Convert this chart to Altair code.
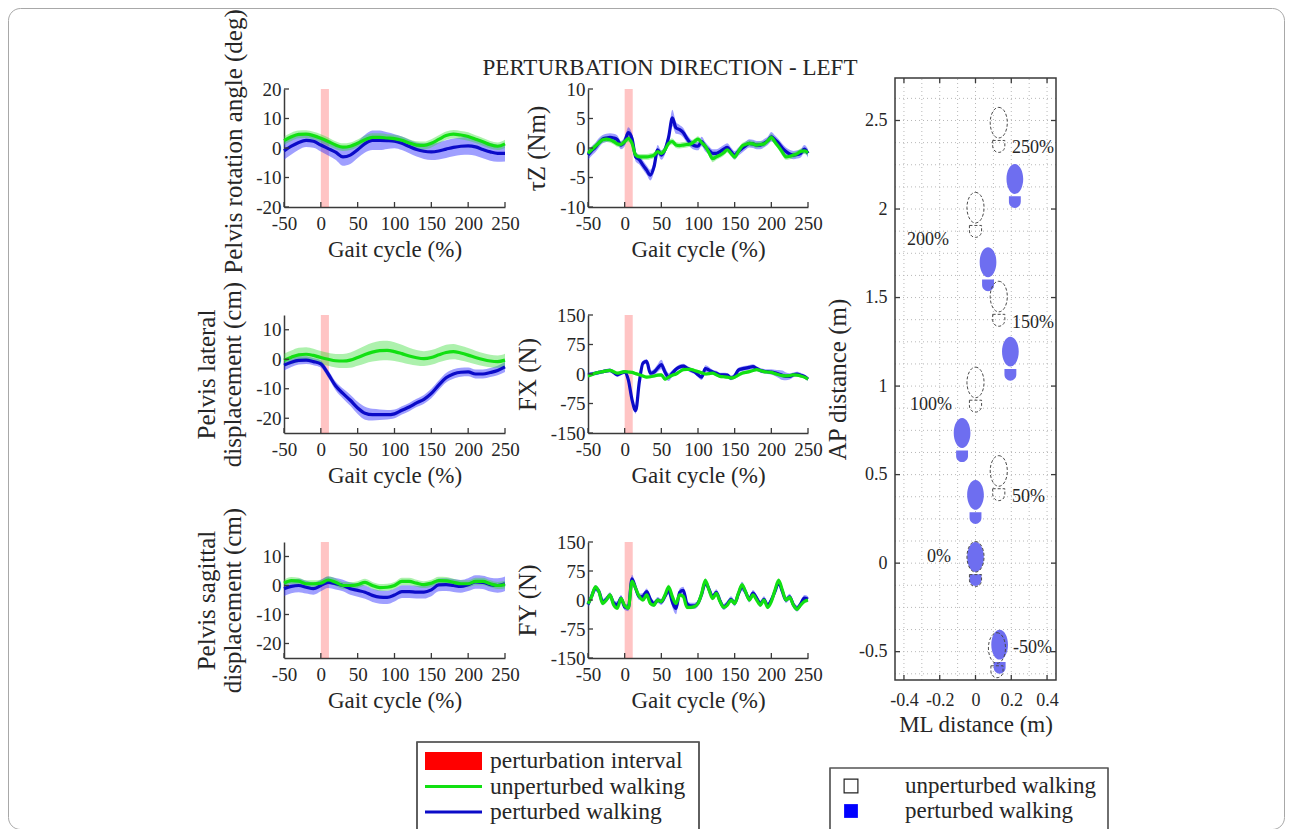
import altair as alt
import pandas as pd

# ---------------------------------------------------------------- data
GAIT10 = [-50, -40, -30, -20, -10, 0, 10, 20, 30, 40, 50, 60, 70, 80, 90, 100,
          110, 120, 130, 140, 150, 160, 170, 180, 190, 200, 210, 220, 230, 240, 250]
GAIT5 = [-50, -45, -40, -35, -30, -25, -20, -15, -10, -5,
         0, 5, 10, 15, 20, 25, 30, 35, 40, 45,
         50, 55, 60, 65, 70, 75, 80, 85, 90, 95,
         100, 105, 110, 115, 120, 125, 130, 135, 140, 145,
         150, 155, 160, 165, 170, 175, 180, 185, 190, 195,
         200, 205, 210, 215, 220, 225, 230, 235, 240, 245, 250]
GAIT_TICKS = [-50, 0, 50, 100, 150, 200, 250]
INTERVAL = [0, 11]

# pelvis rotation angle (deg)
rot_unpert = [2.5, 3.8, 4.6, 4.7, 4.2, 3.3, 2.2, 1.0, 0.3, 0.6, 1.6, 2.8, 3.6, 3.6, 3.4, 3.2,
              2.6, 1.7, 1.0, 0.9, 1.6, 2.9, 4.2, 4.7, 4.4, 3.9, 3.0, 2.1, 1.1, 0.6, 1.4]
rot_unpert_sd = [1.4, 1.4, 1.3, 1.3, 1.3, 1.4, 1.4, 1.3, 1.3, 1.3, 1.3, 1.4, 1.4, 1.4, 1.3, 1.3,
                 1.3, 1.3, 1.3, 1.3, 1.4, 1.4, 1.4, 1.4, 1.4, 1.4, 1.3, 1.3, 1.3, 1.3, 1.4]
rot_pert = [-1.0, 0.6, 1.9, 2.6, 2.3, 1.0, -0.2, -1.4, -3.0, -2.4, -0.6, 1.5, 2.6, 2.6, 2.5, 2.3,
            1.6, 0.5, -0.5, -1.1, -1.3, -1.0, -0.4, 0.2, 0.6, 0.7, 0.4, -0.5, -1.3, -1.8, -1.8]
rot_pert_sd = [3.0, 2.8, 2.5, 2.3, 2.2, 2.2, 2.3, 2.6, 3.0, 3.0, 2.8, 3.0, 3.3, 3.3, 2.8, 2.4,
               2.3, 2.3, 2.4, 2.6, 2.8, 2.9, 3.0, 3.0, 3.0, 3.0, 3.0, 3.0, 3.0, 2.9, 2.8]

# pelvis lateral displacement (cm)
lat_unpert = [-0.3, 0.7, 1.5, 1.7, 1.3, 0.6, 0.0, -0.5, -0.6, -0.3, 0.6, 1.6, 2.4, 2.9, 3.0, 2.6,
              1.9, 1.1, 0.5, 0.2, 0.6, 1.5, 2.3, 2.6, 2.1, 1.4, 0.6, -0.1, -0.6, -0.8, -0.3]
lat_unpert_sd = [2.2, 2.3, 2.4, 2.4, 2.3, 2.2, 2.2, 2.3, 2.4, 2.6, 2.8, 3.0, 3.2, 3.3, 3.3, 3.2,
                 3.0, 2.8, 2.6, 2.5, 2.5, 2.5, 2.6, 2.6, 2.5, 2.4, 2.3, 2.2, 2.1, 2.1, 2.2]
lat_pert = [-2.0, -1.0, -0.4, -0.3, -0.8, -1.6, -5.0, -9.0, -11.6, -13.9, -16.5, -18.3, -18.8,
            -18.8, -18.8, -18.5, -17.3, -16.2, -14.8, -13.6, -11.6, -8.8, -6.3, -5.0, -4.4,
            -4.3, -5.0, -5.0, -4.5, -3.8, -2.6]
lat_pert_sd = [1.8, 1.6, 1.4, 1.3, 1.2, 1.2, 1.3, 1.5, 1.7, 1.9, 2.1, 2.2, 2.0, 1.8, 1.6, 1.5,
               1.4, 1.4, 1.4, 1.5, 1.6, 1.6, 1.6, 1.6, 1.5, 1.5, 1.5, 1.5, 1.5, 1.6, 1.7]

# pelvis sagittal displacement (cm)
sag_unpert = [0.8, 1.7, 1.5, 0.6, 0.6, 0.8, 1.9, 1.1, 0.0, 0.0, 0.3, 1.1, 0.0, -0.7, -0.6, 0.0,
              1.4, 1.4, 0.8, 0.3, 0.8, 1.7, 1.6, 1.1, 0.6, 0.6, 1.4, 1.4, 0.6, 0.0, 0.3]
sag_unpert_sd = [1.2, 1.2, 1.2, 1.2, 1.2, 1.2, 1.3, 1.3, 1.2, 1.2, 1.2, 1.2, 1.2, 1.2, 1.2, 1.2,
                 1.3, 1.3, 1.2, 1.2, 1.2, 1.3, 1.3, 1.2, 1.2, 1.2, 1.3, 1.3, 1.2, 1.2, 1.3]
sag_pert = [-1.1, -0.3, 0.0, -0.6, -1.1, 0.0, 1.1, 0.6, 0.0, -1.1, -1.7, -2.3, -3.4, -4.0, -4.1,
            -3.3, -2.1, -2.1, -2.3, -2.3, -1.5, 0.2, 0.3, 0.0, -0.3, 0.3, 1.2, 1.1, 0.3, 0.0, 0.6]
sag_pert_sd = [2.5, 2.4, 2.3, 2.2, 2.1, 2.0, 2.0, 2.0, 2.0, 2.1, 2.2, 2.3, 2.3, 2.3, 2.3, 2.2,
               2.2, 2.2, 2.2, 2.2, 2.2, 2.2, 2.2, 2.2, 2.2, 2.2, 2.3, 2.3, 2.4, 2.5, 2.5]

# tau_Z (Nm)
tau_unpert = [-0.9, -0.3, 0.3, 0.9, 1.4, 1.5, 1.4, 1.1, 0.7, 0.6,
              1.1, 1.6, 0.8, -1.2, -1.5, -1.5, -1.5, -1.4, -1.2, -0.6,
              -0.9, -0.3, 0.8, 1.1, 0.5, 0.4, 0.5, 0.6, 0.7, 1.1,
              1.5, 0.9, 0.3, -0.8, -1.8, -1.5, -1.2, -0.8, -0.3, -0.9,
              -1.5, -0.6, 0.3, 0.6, 0.8, 0.7, 0.5, 0.6, 0.7, 1.2,
              1.8, 1.0, 0.2, -0.7, -1.5, -1.4, -1.2, -1.0, -0.6, -0.5, -0.8]
tau_unpert_sd = [0.5, 0.5, 0.5, 0.5, 0.5, 0.5, 0.5, 0.5, 0.5, 0.5,
                 0.5, 0.6, 0.5, 0.5, 0.5, 0.5, 0.5, 0.5, 0.5, 0.5,
                 0.5, 0.5, 0.5, 0.5, 0.5, 0.5, 0.5, 0.5, 0.5, 0.5,
                 0.5, 0.5, 0.5, 0.6, 0.6, 0.5, 0.5, 0.5, 0.5, 0.5,
                 0.5, 0.5, 0.5, 0.5, 0.5, 0.5, 0.5, 0.5, 0.5, 0.5,
                 0.6, 0.5, 0.5, 0.6, 0.5, 0.5, 0.5, 0.5, 0.5, 0.5, 0.5]
tau_pert = [-1.2, -0.5, 0.1, 0.9, 1.5, 1.7, 1.8, 1.7, 1.4, 0.5,
            1.1, 2.6, 1.6, -1.5, -2.0, -2.9, -3.75, -4.6, -3.2, -0.3,
            -1.2, -0.3, 1.9, 5.1, 3.4, 3.1, 2.6, 1.6, 0.8, 0.4,
            0.3, 1.1, 0.2, -0.4, -0.9, -0.9, -0.6, -0.2, 0.1, -0.6,
            -1.2, -0.6, -0.1, 0.4, 0.8, 0.7, 0.5, 0.5, 0.8, 1.2,
            1.9, 1.4, 0.8, 0.0, -0.6, -1.0, -1.2, -1.1, -0.9, -0.2, -0.9]
tau_pert_sd = [0.8, 0.8, 0.8, 0.8, 0.7, 0.7, 0.7, 0.7, 0.7, 0.7,
               0.8, 0.9, 0.8, 0.8, 0.8, 0.8, 0.8, 0.9, 0.9, 0.8,
               0.8, 0.8, 0.9, 1.4, 1.0, 0.8, 0.8, 0.7, 0.7, 0.7,
               0.7, 0.8, 0.8, 0.7, 0.7, 0.7, 0.7, 0.7, 0.7, 0.7,
               0.7, 0.7, 0.7, 0.7, 0.7, 0.7, 0.7, 0.7, 0.7, 0.7,
               0.8, 0.7, 0.7, 0.7, 0.7, 0.7, 0.7, 0.7, 0.7, 0.7, 0.7]

# F_X (N)
fx_unpert = [-5, -2, 2, 4, 6, 8, 9, 6, 2, 4,
             6, 5, 4, 1, -2, -5, -8, -7, -5, -3,
             -2, -13, -8, -3, 0, 6, 11, 12, 12, 9,
             6, 3, 0, 1, 2, -2, -6, -7, -8, -10,
             -8, -3, 2, 4, 6, 9, 11, 9, 6, 5,
             4, 1, -2, -4, -5, -4, -2, -3, -5, -8, -13]
fx_unpert_sd = [4, 4, 4, 4, 4, 4, 4, 4, 4, 4,
                4, 4, 4, 4, 4, 4, 4, 4, 4, 4,
                4, 5, 4, 4, 4, 4, 4, 4, 4, 4,
                4, 4, 4, 4, 4, 4, 4, 4, 4, 5,
                4, 4, 4, 4, 4, 4, 4, 4, 4, 4,
                4, 4, 4, 5, 5, 4, 4, 4, 4, 4, 4]
fx_pert = [-2, 0, 2, 4, 6, 8, 9, 4, -2, 2,
           5, -15, -65, -93, -20, 28, 32, 2, 5, 15,
           24, 5, -8, 2, 12, 18, 20, 15, 10, 6,
           -2, -8, 14, 10, 5, 2, -2, -2, -3, -10,
           -5, 10, 13, 15, 17, 19, 14, 9, 7, 6,
           5, 3, 0, -3, -6, -6, -2, 0, -3, -6, -13]
fx_pert_sd = [5, 5, 5, 5, 5, 5, 5, 5, 5, 5,
              5, 6, 7, 8, 7, 6, 6, 7, 8, 10,
              12, 12, 10, 8, 6, 6, 6, 6, 6, 6,
              6, 7, 8, 8, 6, 6, 5, 5, 5, 6,
              6, 6, 6, 6, 6, 6, 6, 6, 6, 6,
              7, 8, 10, 12, 10, 8, 6, 6, 6, 5, 5]

# F_Y (N)
fy_unpert = [-10, 9, 34, 21, -9, 0, 13, -13, -21, 4,
             -15, -21, 48, 30, 9, 0, 13, -9, -13, 0,
             -4, 13, 34, 9, -9, 13, 9, -19, -19, -17,
             -9, 17, 51, 26, 4, 17, -4, -19, -13, 0,
             -9, 17, 39, 21, 0, 13, 0, -13, 0, -19,
             -4, 26, 51, 26, 0, 7, -13, -24, -13, -4, 0]
fy_unpert_sd = [5, 5, 5, 5, 5, 5, 5, 5, 5, 5,
                5, 5, 6, 6, 5, 5, 5, 5, 5, 5,
                5, 5, 6, 5, 5, 5, 5, 5, 5, 5,
                5, 5, 6, 5, 5, 5, 5, 5, 5, 5,
                5, 5, 6, 5, 5, 5, 5, 5, 5, 5,
                5, 5, 6, 5, 5, 5, 5, 5, 5, 5, 5]
fy_pert = [-12, 10, 30, 22, -5, 2, 12, -8, -12, 5,
           -18, -20, 55, 30, 8, 10, 22, 2, -10, 0,
           -5, 10, 25, -5, -22, 20, 25, -10, -15, -15,
           -8, 15, 45, 28, 8, 20, -2, -18, -10, 2,
           -8, 15, 35, 20, 2, 18, 5, -10, 2, -15,
           0, 22, 45, 22, 0, 8, -12, -22, -10, 5, 2]
fy_pert_sd = [8, 8, 8, 8, 8, 8, 8, 8, 8, 8,
              8, 9, 10, 9, 8, 8, 8, 8, 8, 8,
              8, 9, 10, 14, 15, 10, 9, 8, 8, 8,
              8, 8, 10, 9, 8, 8, 8, 8, 8, 8,
              8, 9, 12, 10, 8, 8, 8, 8, 8, 8,
              8, 8, 9, 8, 8, 8, 8, 8, 8, 8, 8]

# footprints (m)
pert_ml = [0.135, 0.0, 0.0, -0.075, 0.195, 0.07, 0.22]
pert_ap = [-0.50, -0.005, 0.346, 0.695, 1.155, 1.66, 2.13]
unpert_ml = [0.12, 0.0, 0.13, 0.0, 0.13, 0.0, 0.13]
unpert_ap = [-0.52, -0.005, 0.48, 0.98, 1.465, 1.967, 2.447]
step_labels = ["-50%", "0%", "50%", "100%", "150%", "200%", "250%"]
step_label_ml = [0.21, -0.271, 0.204, -0.366, 0.204, -0.383, 0.204]
step_label_ap = [-0.48, 0.036, 0.375, 0.894, 1.356, 1.825, 2.345]
ML_DOMAIN = [-0.45, 0.45]
AP_DOMAIN = [-0.66, 2.74]
ML_TICKS = [-0.4, -0.2, 0, 0.2, 0.4]
AP_TICKS = [-0.5, 0, 0.5, 1, 1.5, 2, 2.5]
ML_GRID = [-0.4, -0.3, -0.2, -0.1, 0.0, 0.1, 0.2, 0.3, 0.4]
AP_GRID = [-0.625, -0.5, -0.375, -0.25, -0.125, 0.0, 0.125, 0.25, 0.375, 0.5, 0.625, 0.75,
           0.875, 1.0, 1.125, 1.25, 1.375, 1.5, 1.625, 1.75, 1.875, 2.0, 2.125, 2.25,
           2.375, 2.5, 2.625]

TITLE = "PERTURBATION DIRECTION - LEFT"
LEG_LEFT = ["perturbation interval", "unperturbed walking", "perturbed walking"]
LEG_RIGHT = ["unperturbed walking", "perturbed walking"]

# ---------------------------------------------------------------- style
W, H = 1276, 821
PAD = 8
FONT = "Liberation Serif"
AX = "#3a3a3a"
TXT = "#262626"
GREEN = "#12e012"
GREEN_BAND = "#33dd33"
BLUE = "#0b0bc8"
BLUE_BAND = "#2a2aff"
RED = "#ff0000"
FOOT_BLUE = "#6e6ef0"

FOOT = ("M0,-1 C0.21,-1 0.38,-0.696 0.38,-0.32 C0.38,0.056 0.21,0.36 0,0.36 "
        "C-0.21,0.36 -0.38,0.056 -0.38,-0.32 C-0.38,-0.696 -0.21,-1 0,-1 Z "
        "M-0.27,0.47 L0.27,0.47 L0.27,0.72 C0.27,0.875 0.15,1 0,1 "
        "C-0.15,1 -0.27,0.875 -0.27,0.72 Z")
TICK_UP = "M0,0L0,-1"
TICK_DOWN = "M0,0L0,1"
TICK_RIGHT = "M0,0L1,0"
TICK_LEFT = "M0,0L-1,0"


def px(x):
    return x - PAD


def py(y):
    return y - PAD


def axis(orient, offset, values, title, lab_pad, tit_pad, lab_size=19, tit_size=23,
         domain=True, **extra):
    return alt.Axis(orient=orient, offset=offset, values=values, title=title,
                    ticks=False, tickSize=0, grid=False, domain=domain,
                    domainColor=AX, domainWidth=1.5,
                    labelFont=FONT, labelFontSize=lab_size, labelColor=TXT,
                    labelPadding=lab_pad, labelExpr="'' + datum.value",
                    labelOverlap=False, labelFlush=False,
                    titleFont=FONT, titleFontSize=tit_size, titleFontWeight="normal",
                    titleColor=TXT, titlePadding=tit_pad, titleLineHeight=26, **extra)


def tick_layer(df, xf, yf, xs, ys, xax, yax, shape, n=100):
    return alt.Chart(df).mark_point(shape=shape, size=n, filled=False, color=AX,
                                    strokeWidth=1.3, opacity=1).encode(
        x=alt.X(xf, scale=xs, axis=xax), y=alt.Y(yf, scale=ys, axis=yax))


def gait_panel(g, pert, pert_sd, unpert, unpert_sd, box, ydom, yticks, ytitle, title_pos=None):
    x0, x1, y0, y1 = box
    df = pd.DataFrame({"g": g, "p": pert, "u": unpert})
    df["plo"] = df["p"] - pd.Series(pert_sd)
    df["phi"] = df["p"] + pd.Series(pert_sd)
    df["ulo"] = df["u"] - pd.Series(unpert_sd)
    df["uhi"] = df["u"] + pd.Series(unpert_sd)
    xs = alt.Scale(domain=[-50, 250], range=[px(x0), px(x1)], nice=False, zero=False)
    ys = alt.Scale(domain=ydom, range=[py(y1), py(y0)], nice=False, zero=False)
    xax = axis("bottom", py(y1) - H, GAIT_TICKS, "Gait cycle (%)", 7, 5)
    extra = {}
    if title_pos is not None:
        extra = {"titleX": title_pos[0], "titleY": py(title_pos[1])}
    yax = axis("left", -px(x0), yticks, ytitle, 3, 10, tit_size=25, **extra)

    def X(f):
        return alt.X(f, scale=xs, axis=xax)

    def Y(f):
        return alt.Y(f, scale=ys, axis=yax)

    inter = pd.DataFrame({"s": [INTERVAL[0]], "e": [INTERVAL[1]],
                          "lo": [ydom[0]], "hi": [ydom[1]]})
    red = alt.Chart(inter).mark_rect(color=RED, opacity=0.23).encode(
        x=X("s:Q"), x2="e:Q", y=Y("lo:Q"), y2="hi:Q")
    base = alt.Chart(df)
    bband = base.mark_area(color=BLUE_BAND, opacity=0.45, interpolate="monotone").encode(
        x=X("g:Q"), y=Y("plo:Q"), y2="phi:Q")
    gband = base.mark_area(color=GREEN_BAND, opacity=0.4, interpolate="monotone").encode(
        x=X("g:Q"), y=Y("ulo:Q"), y2="uhi:Q")
    bline = base.mark_line(color=BLUE, strokeWidth=3.2, interpolate="monotone").encode(
        x=X("g:Q"), y=Y("p:Q"))
    gline = base.mark_line(color=GREEN, strokeWidth=3.2, interpolate="monotone").encode(
        x=X("g:Q"), y=Y("u:Q"))
    xt = tick_layer(pd.DataFrame({"v": GAIT_TICKS, "b": [ydom[0]] * len(GAIT_TICKS)}),
                    "v:Q", "b:Q", xs, ys, xax, yax, TICK_UP)
    yt = tick_layer(pd.DataFrame({"v": yticks, "b": [-50] * len(yticks)}),
                    "b:Q", "v:Q", xs, ys, xax, yax, TICK_RIGHT)
    return alt.layer(red, bband, gband, bline, gline, xt, yt)


panels = [
    gait_panel(GAIT10, rot_pert, rot_pert_sd, rot_unpert, rot_unpert_sd,
               (284, 505, 89, 207), [-20, 20], [-20, -10, 0, 10, 20],
               "Pelvis rotation angle (deg)", title_pos=(-38, 141)),
    gait_panel(GAIT5, tau_pert, tau_pert_sd, tau_unpert, tau_unpert_sd,
               (588, 808, 89, 207), [-10, 10], [-10, -5, 0, 5, 10], "\u03c4Z (Nm)"),
    gait_panel(GAIT10, lat_pert, lat_pert_sd, lat_unpert, lat_unpert_sd,
               (284, 505, 315, 433), [-25, 15], [-20, -10, 0, 10],
               ["Pelvis lateral", "displacement (cm)"]),
    gait_panel(GAIT5, fx_pert, fx_pert_sd, fx_unpert, fx_unpert_sd,
               (588, 808, 315, 433), [-150, 150], [-150, -75, 0, 75, 150], "FX (N)"),
    gait_panel(GAIT10, sag_pert, sag_pert_sd, sag_unpert, sag_unpert_sd,
               (284, 505, 542, 658), [-25, 15], [-20, -10, 0, 10],
               ["Pelvis sagittal", "displacement (cm)"]),
    gait_panel(GAIT5, fy_pert, fy_pert_sd, fy_unpert, fy_unpert_sd,
               (588, 808, 542, 658), [-150, 150], [-150, -75, 0, 75, 150], "FY (N)"),
]

# ---------------------------------------------------------------- footprint panel
rx = alt.Scale(domain=ML_DOMAIN, range=[px(895), px(1056)], nice=False, zero=False)
ry = alt.Scale(domain=AP_DOMAIN, range=[py(680), py(78)], nice=False, zero=False)
rxax = axis("bottom", py(680) - H, ML_TICKS, "ML distance (m)", 11, 4, 18, domain=False)
ryax = axis("left", -px(895), AP_TICKS, "AP distance (m)", 8, 8, 18, tit_size=25,
            domain=False)


def RX(f):
    return alt.X(f, scale=rx, axis=rxax)


def RY(f):
    return alt.Y(f, scale=ry, axis=ryax)


vgrid = alt.Chart(pd.DataFrame({"v": ML_GRID, "lo": AP_DOMAIN[0], "hi": AP_DOMAIN[1]})).mark_rule(
    color="#b8b8b8", strokeWidth=1, strokeDash=[1, 3]).encode(
    x=RX("v:Q"), y=RY("lo:Q"), y2="hi:Q")
hgrid = alt.Chart(pd.DataFrame({"v": AP_GRID, "lo": ML_DOMAIN[0], "hi": ML_DOMAIN[1]})).mark_rule(
    color="#b8b8b8", strokeWidth=1, strokeDash=[1, 3]).encode(
    y=RY("v:Q"), x=RX("lo:Q"), x2="hi:Q")
feet_p = alt.Chart(pd.DataFrame({"ml": pert_ml, "ap": pert_ap})).mark_point(
    shape=FOOT, size=1936, filled=True, color=FOOT_BLUE, strokeWidth=0, opacity=1).encode(
    x=RX("ml:Q"), y=RY("ap:Q"))
feet_u = alt.Chart(pd.DataFrame({"ml": unpert_ml, "ap": unpert_ap})).mark_point(
    shape=FOOT, size=2025, filled=False, color="#4a4a4a", strokeWidth=1,
    strokeDash=[3, 2], opacity=1).encode(
    x=RX("ml:Q"), y=RY("ap:Q"))
step_txt = alt.Chart(pd.DataFrame({"t": step_labels, "ml": step_label_ml, "ap": step_label_ap})).mark_text(
    align="left", baseline="middle", font=FONT, fontSize=18, color=TXT).encode(
    x=RX("ml:Q"), y=RY("ap:Q"), text="t:N")
frame = alt.Chart(pd.DataFrame({"a": [ML_DOMAIN[0]], "b": [ML_DOMAIN[1]],
                                "c": [AP_DOMAIN[0]], "d": [AP_DOMAIN[1]]})).mark_rect(
    fillOpacity=0, stroke=AX, strokeWidth=1.5).encode(
    x=RX("a:Q"), x2="b:Q", y=RY("c:Q"), y2="d:Q")
rt_b = tick_layer(pd.DataFrame({"v": ML_TICKS, "b": [AP_DOMAIN[0]] * len(ML_TICKS)}),
                  "v:Q", "b:Q", rx, ry, rxax, ryax, TICK_UP)
rt_t = tick_layer(pd.DataFrame({"v": ML_TICKS, "b": [AP_DOMAIN[1]] * len(ML_TICKS)}),
                  "v:Q", "b:Q", rx, ry, rxax, ryax, TICK_DOWN)
rt_l = tick_layer(pd.DataFrame({"v": AP_TICKS, "b": [ML_DOMAIN[0]] * len(AP_TICKS)}),
                  "b:Q", "v:Q", rx, ry, rxax, ryax, TICK_RIGHT)
rt_r = tick_layer(pd.DataFrame({"v": AP_TICKS, "b": [ML_DOMAIN[1]] * len(AP_TICKS)}),
                  "b:Q", "v:Q", rx, ry, rxax, ryax, TICK_LEFT)
foot_panel = alt.layer(vgrid, hgrid, feet_p, feet_u, step_txt, frame, rt_b, rt_t, rt_l, rt_r)

# ---------------------------------------------------------------- legends
ly = alt.Scale(type="point", domain=LEG_LEFT, range=[py(761), py(812)], padding=0)
ldf = pd.DataFrame({"label": LEG_LEFT})
lbox = alt.Chart(ldf).mark_rect(fillOpacity=0, stroke="#555555", strokeWidth=1.2).encode(
    x=alt.value(px(417)), x2=alt.value(px(699)), y=alt.value(py(742)), y2=alt.value(py(840)))
lswatch = alt.Chart(ldf).transform_filter(
    alt.FieldEqualPredicate(field="label", equal=LEG_LEFT[0])).mark_rule(
    color=RED, strokeWidth=18, strokeCap="butt").encode(
    x=alt.value(px(425)), x2=alt.value(px(482)), y=alt.Y("label:N", scale=ly, axis=None))
llines = alt.Chart(ldf).transform_filter(
    alt.FieldOneOfPredicate(field="label", oneOf=LEG_LEFT[1:])).mark_rule(
    strokeWidth=3, strokeCap="butt").encode(
    x=alt.value(px(425)), x2=alt.value(px(482)), y=alt.Y("label:N", scale=ly, axis=None),
    color=alt.Color("label:N", scale=alt.Scale(domain=LEG_LEFT[1:], range=[GREEN, BLUE]),
                    legend=None))
ltext = alt.Chart(ldf).mark_text(align="left", baseline="middle", font=FONT, fontSize=23.5,
                                 color=TXT).encode(
    x=alt.value(px(490)), y=alt.Y("label:N", scale=ly, axis=None), text="label:N")
left_legend = alt.layer(lbox, lswatch, llines, ltext)

ry2 = alt.Scale(type="point", domain=LEG_RIGHT, range=[py(786), py(811)], padding=0)
rdf = pd.DataFrame({"label": LEG_RIGHT})
rbox = alt.Chart(rdf).mark_rect(fillOpacity=0, stroke="#555555", strokeWidth=1.2).encode(
    x=alt.value(px(830)), x2=alt.value(px(1108)), y=alt.value(py(768)), y2=alt.value(py(840)))
rsq_u = alt.Chart(rdf).transform_filter(
    alt.FieldEqualPredicate(field="label", equal=LEG_RIGHT[0])).mark_point(
    shape="square", size=190, filled=False, color="#222222", strokeWidth=1.2, opacity=1).encode(
    x=alt.value(px(851)), y=alt.Y("label:N", scale=ry2, axis=None))
rsq_p = alt.Chart(rdf).transform_filter(
    alt.FieldEqualPredicate(field="label", equal=LEG_RIGHT[1])).mark_point(
    shape="square", size=190, filled=True, color="#0000ff", opacity=1).encode(
    x=alt.value(px(851)), y=alt.Y("label:N", scale=ry2, axis=None))
rtext = alt.Chart(rdf).mark_text(align="left", baseline="middle", font=FONT, fontSize=23,
                                 color=TXT).encode(
    x=alt.value(px(905)), y=alt.Y("label:N", scale=ry2, axis=None), text="label:N")
right_legend = alt.layer(rbox, rsq_u, rsq_p, rtext)

title = alt.Chart(pd.DataFrame({"t": [TITLE]})).mark_text(
    align="center", baseline="middle", font=FONT, fontSize=23, color=TXT).encode(
    x=alt.value(px(670)), y=alt.value(py(68)), text="t:N")

chart = alt.layer(*panels, foot_panel, left_legend, right_legend, title).resolve_scale(
    x="independent", y="independent", color="independent").properties(
    width=W, height=H, autosize="none",
    padding={"left": PAD, "top": PAD, "right": PAD, "bottom": 0},
).configure_view(stroke="#a8a8a8", strokeWidth=1, cornerRadius=12)

chart.save("out.html", embed_options={"renderer": "svg", "actions": False})
